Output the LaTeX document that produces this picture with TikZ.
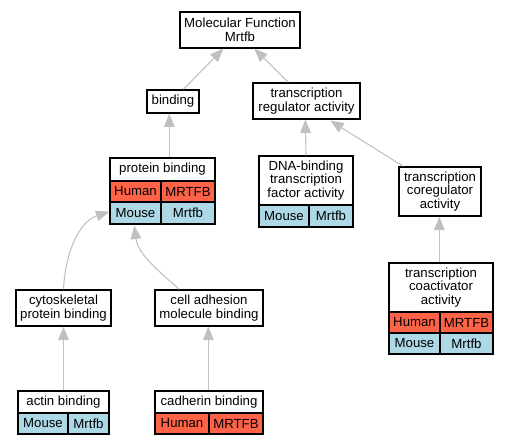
\documentclass[tikz,border=0pt]{standalone}
\usepackage{fontspec}
\setmainfont{Liberation Sans}
\usetikzlibrary{arrows.meta,calc}
\definecolor{human}{HTML}{FF6347}
\definecolor{mouse}{HTML}{ADD8E6}
\definecolor{edge}{HTML}{C0C0C0}
\tikzset{
  box/.style={draw=black, line width=1pt, fill=white, inner sep=0pt, align=center, anchor=center, font=\fontsize{9.9}{10.1}\selectfont},
  span/.style args={#1/#2/#3/#4}{at={({(#1+#3)/2},{(#2+#4)/2})}, minimum width={(#3-#1)*0.75pt}, minimum height={(#4-#2)*0.75pt}},
  hcell/.style={box, fill=human},
  mcell/.style={box, fill=mouse},
  rel/.style={draw=edge, line width=0.8pt, -{Triangle[length=10pt,width=8pt,fill=edge]}},
}
\begin{document}
\begin{tikzpicture}[x=0.75pt,y=-0.75pt]
\useasboundingbox (0,0) rectangle (509,445);
% Molecular function root
\node[box, span=180/12/300/48] (mf) {Molecular Function\\Mrtfb};
% binding
\node[box, span=147/90/199/113] (bind) {binding};
% transcription regulator activity
\node[box, span=253/83/360/119] (tra) {transcription\\regulator activity};
% protein binding table
\node[box, span=110/158/215/181] (pb) {protein binding};
\node[hcell, span=110/181/161/202] (pbh1) {Human};
\node[hcell, span=161/181/215/202] (pbh2) {MRTFB};
\node[mcell, span=110/202/161/224] (pbm1) {Mouse};
\node[mcell, span=161/202/215/224] (pbm2) {Mrtfb};
% DNA-binding
\node[box, span=259/156/353/205] (dna) {DNA-binding\\transcription\\factor activity};
\node[mcell, span=259/205/309/227] (dnam1) {Mouse};
\node[mcell, span=309/205/353/227] (dnam2) {Mrtfb};
% coregulator
\node[box, span=399/167/481/216] (coreg) {transcription\\coregulator\\activity};
% coactivator
\node[box, span=389/263/493/312] (coact) {transcription\\coactivator\\activity};
\node[hcell, span=389/312/440/333] (coh1) {Human};
\node[hcell, span=440/312/493/333] (coh2) {MRTFB};
\node[mcell, span=389/333/440/354] (com1) {Mouse};
\node[mcell, span=440/333/493/354] (com2) {Mrtfb};
% cytoskeletal
\node[box, span=16/290/111/326] (cyto) {cytoskeletal\\protein binding};
% cell adhesion
\node[box, span=155/290/263/326] (cell) {cell adhesion\\molecule binding};
% actin binding
\node[box, span=18/391/109/413] (actin) {actin binding};
\node[mcell, span=18/413/68/434] (actm1) {Mouse};
\node[mcell, span=68/413/109/434] (actm2) {Mrtfb};
% cadherin binding
\node[box, span=155/391/263/413] (cad) {cadherin binding};
\node[hcell, span=155/413/209/434] (cadh1) {Human};
\node[hcell, span=209/413/263/434] (cadh2) {MRTFB};

% connectors
\draw[rel] ($(bind.north west)+(37,0)$) -- ($(mf.south west)+(44,0)$);
\draw[rel] ($(tra.north west)+(36,0)$) -- ($(mf.south west)+(75,0)$);
\draw[rel] ($(pb.north west)+(60,0)$) -- ($(bind.south west)+(23,0)$);
\draw[rel] (dna.north) -- ($(tra.south west)+(53,0)$);
\draw[rel] ($(coreg.north west)+(5,0)$) -- ($(tra.south west)+(78,1)$);
\draw[rel] ($(coact.north west)+(51,0)$) -- ($(coreg.south west)+(41,0)$);
\draw[rel] (cyto.north) .. controls (65,255) and (78,222) .. ($(pbm1.south west)+(0,-13)$);
\draw[rel] ($(cell.north west)+(25,0)$) .. controls (160,272) and (138,255) .. ($(pbm1.south west)+(25,1)$);
\draw[rel] (actin.north -| cyto.south) -- (cyto.south);
\draw[rel] ($(cad.north west)+(54,0)$) -- ($(cell.south west)+(54,0)$);
\end{tikzpicture}
\end{document}
